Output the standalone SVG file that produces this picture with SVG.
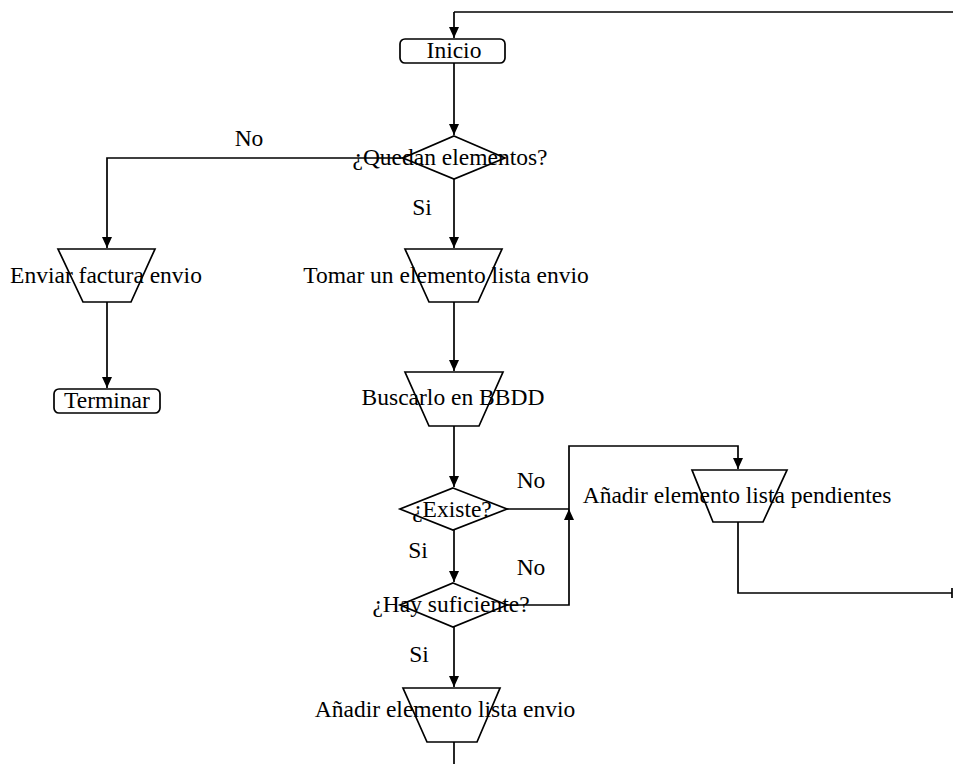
<svg xmlns="http://www.w3.org/2000/svg" width="953" height="764" viewBox="0 0 953 764">
  <defs>
    <marker id="arrow" markerUnits="userSpaceOnUse" markerWidth="12" markerHeight="12" viewBox="0 0 12 12" refX="11" refY="6" orient="auto">
      <path d="M0,1 L11,6 L0,11 Z" fill="#000"/>
    </marker>
    <style>
      .shape { fill: #fff; stroke: #000; stroke-width: 1.7; }
      .line { fill: none; stroke: #000; stroke-width: 1.7; }
      .arr { marker-end: url(#arrow); }
      text { font-family: "Liberation Serif", "Times New Roman", serif; font-size: 23.5px; fill: #000; }
      .c { text-anchor: middle; }
    </style>
  </defs>
  <rect width="953" height="764" fill="#fff"/>

  <!-- connectors -->
  <g id="connectors">
    <path class="line" d="M454,12 H953"/>
    <path class="line arr" d="M454,12 V38"/>
    <path class="line arr" d="M454,63 V135"/>
    <path class="line arr" d="M403,158 H107 V248"/>
    <path class="line arr" d="M454,179 V248"/>
    <path class="line arr" d="M107,302 V388"/>
    <path class="line arr" d="M454,302 V371"/>
    <path class="line arr" d="M454,426 V487"/>
    <path class="line" d="M507,509 H569"/>
    <path class="line arr" d="M507,605 H569 V509"/>
    <path class="line arr" d="M569,509 V446 H738 V469"/>
    <path class="line arr" d="M454,530 V582"/>
    <path class="line arr" d="M454,627 V687"/>
    <path class="line" d="M454,742 V764"/>
    <path class="line" d="M738,522 V593 H952 M952,588 V598"/>
  </g>

  <!-- edge labels -->
  <g id="labels">
    <text x="249" y="146" class="c">No</text>
    <text x="422" y="215" class="c">Si</text>
    <text x="531" y="488" class="c">No</text>
    <text x="418" y="558" class="c">Si</text>
    <text x="531" y="575" class="c">No</text>
    <text x="419" y="662" class="c">Si</text>
  </g>

  <g id="inicio">
    <rect class="shape" x="400" y="39" width="105" height="24" rx="5"/>
    <text x="454" y="58" class="c">Inicio</text>
  </g>

  <g id="quedan-elementos">
    <path class="shape" d="M454,136 L505,158 L454,179 L403,158 Z"/>
    <text x="450" y="165" class="c">¿Quedan elementos?</text>
  </g>

  <g id="enviar-factura">
    <path class="shape" d="M58,249 H155 L131,302 H83 Z"/>
    <text x="106" y="283" class="c">Enviar factura envio</text>
  </g>

  <g id="terminar">
    <rect class="shape" x="54" y="389" width="106" height="24" rx="5"/>
    <text x="107" y="408" class="c">Terminar</text>
  </g>

  <g id="tomar-elemento">
    <path class="shape" d="M405,249 H502 L478,302 H429 Z"/>
    <text x="446" y="283" class="c">Tomar un elemento lista envio</text>
  </g>

  <g id="buscar-bbdd">
    <path class="shape" d="M405,372 H503 L479,426 H429 Z"/>
    <text x="453" y="405" class="c">Buscarlo en BBDD</text>
  </g>

  <g id="existe">
    <path class="shape" d="M453,488 L507,509 L453,530 L400,509 Z"/>
    <text x="452" y="517" class="c">¿Existe?</text>
  </g>

  <g id="hay-suficiente">
    <path class="shape" d="M453,583 L507,605 L453,627 L400,605 Z"/>
    <text x="451" y="612" class="c">¿Hay suficiente?</text>
  </g>

  <g id="anadir-pendientes">
    <path class="shape" d="M692,470 H787 L763,522 H713 Z"/>
    <text x="737" y="503" class="c">Añadir elemento lista pendientes</text>
  </g>

  <g id="anadir-envio">
    <path class="shape" d="M403,688 H500 L477,742 H427 Z"/>
    <text x="445" y="717" class="c">Añadir elemento lista envio</text>
  </g>
</svg>
